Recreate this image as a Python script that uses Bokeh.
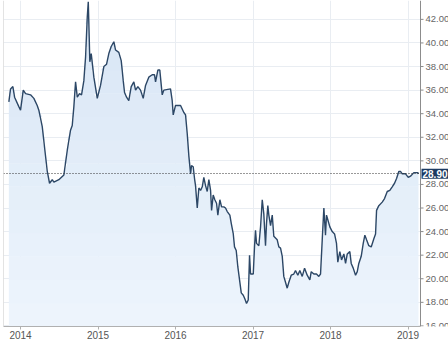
import numpy as np
from bokeh.plotting import figure
from bokeh.models import Span, Label, FixedTicker, Range1d
from bokeh.core.properties import value
from bokeh.embed import file_html
from bokeh.resources import INLINE

# decimal-year dates and closing values
dates = [2013.849, 2013.871, 2013.901, 2013.923, 2013.978, 2014.000, 2014.035, 2014.065, 2014.129, 2014.172,
         2014.215, 2014.236, 2014.280, 2014.314, 2014.345, 2014.374, 2014.409, 2014.430, 2014.494, 2014.559,
         2014.603, 2014.645, 2014.667, 2014.688, 2014.710, 2014.732, 2014.761, 2014.787, 2014.817, 2014.839,
         2014.861, 2014.874, 2014.886, 2014.894, 2014.912, 2014.946, 2014.990, 2015.032, 2015.075, 2015.110,
         2015.139, 2015.170, 2015.204, 2015.226, 2015.268, 2015.299, 2015.325, 2015.342, 2015.368, 2015.397,
         2015.428, 2015.462, 2015.484, 2015.514, 2015.548, 2015.583, 2015.613, 2015.655, 2015.699, 2015.729,
         2015.742, 2015.772, 2015.797, 2015.828, 2015.849, 2015.935, 2015.957, 2015.970, 2016.000, 2016.065,
         2016.107, 2016.129, 2016.151, 2016.172, 2016.194, 2016.206, 2016.228, 2016.245, 2016.258, 2016.280,
         2016.301, 2016.323, 2016.345, 2016.365, 2016.387, 2016.409, 2016.430, 2016.452, 2016.465, 2016.486,
         2016.507, 2016.529, 2016.546, 2016.572, 2016.594, 2016.623, 2016.645, 2016.667, 2016.701, 2016.719,
         2016.745, 2016.761, 2016.783, 2016.804, 2016.826, 2016.848, 2016.874, 2016.894, 2016.916, 2016.938,
         2016.955, 2016.968, 2017.003, 2017.019, 2017.032, 2017.045, 2017.075, 2017.097, 2017.119, 2017.139,
         2017.161, 2017.174, 2017.191, 2017.204, 2017.226, 2017.248, 2017.268, 2017.312, 2017.333, 2017.355,
         2017.377, 2017.397, 2017.419, 2017.441, 2017.462, 2017.493, 2017.526, 2017.548, 2017.578, 2017.604,
         2017.635, 2017.665, 2017.699, 2017.733, 2017.751, 2017.785, 2017.819, 2017.849, 2017.871, 2017.893,
         2017.914, 2017.935, 2017.948, 2017.965, 2017.991, 2018.022, 2018.052, 2018.077, 2018.094, 2018.120,
         2018.142, 2018.172, 2018.194, 2018.216, 2018.249, 2018.267, 2018.293, 2018.323, 2018.345, 2018.365,
         2018.396, 2018.422, 2018.443, 2018.465, 2018.494, 2018.525, 2018.559, 2018.581, 2018.594, 2018.623,
         2018.667, 2018.697, 2018.732, 2018.765, 2018.796, 2018.826, 2018.852, 2018.881, 2018.903, 2018.925,
         2018.968, 2019.003, 2019.032, 2019.075, 2019.126, 2019.135]
values = [35.0, 36.1, 36.3, 35.4, 34.6, 34.3, 36.0, 35.7, 35.6, 35.3,
          34.7, 34.3, 32.9, 30.9, 29.1, 28.1, 28.4, 28.2, 28.4, 28.8,
          30.9, 32.6, 33.0, 34.6, 36.7, 35.4, 35.7, 35.6, 36.8, 38.8,
          42.2, 43.5, 40.5, 38.4, 39.1, 37.1, 35.3, 36.4, 38.0, 38.2,
          39.1, 39.7, 40.1, 39.4, 39.2, 38.5, 36.8, 35.8, 35.4, 35.1,
          36.3, 36.7, 36.0, 36.3, 36.0, 35.3, 36.4, 37.1, 37.3, 37.3,
          36.7, 37.7, 37.7, 35.6, 36.0, 36.1, 35.1, 33.9, 34.7, 34.7,
          34.1, 33.9, 32.3, 30.4, 28.9, 29.6, 29.5, 28.5, 27.9, 26.0,
          27.7, 27.5, 27.8, 28.6, 27.9, 27.4, 28.4, 27.5, 25.8, 27.1,
          26.7, 26.4, 25.4, 26.7, 26.1, 26.1, 26.0, 25.7, 25.4, 24.7,
          23.8, 22.7, 22.4, 21.0, 19.9, 18.8, 18.6, 18.3, 17.9, 18.2,
          22.0, 20.4, 20.4, 22.7, 24.1, 23.0, 22.8, 24.4, 26.7, 25.5,
          22.8, 24.7, 26.2, 25.4, 24.5, 25.4, 23.6, 23.3, 22.7, 22.6,
          21.9, 20.2, 19.7, 19.2, 19.7, 20.3, 20.4, 20.7, 20.3, 20.7,
          20.2, 20.9, 20.3, 19.9, 20.6, 20.4, 20.4, 20.2, 20.4, 23.3,
          26.0, 23.7, 25.4, 25.0, 24.4, 24.0, 23.8, 23.0, 21.4, 22.3,
          21.6, 22.1, 21.3, 22.1, 22.3, 21.3, 20.9, 20.3, 20.6, 21.3,
          21.9, 23.0, 23.7, 23.3, 22.8, 22.7, 23.4, 23.8, 25.8, 26.2,
          26.5, 26.8, 27.4, 27.5, 27.8, 28.1, 28.5, 29.1, 29.1, 28.9,
          28.9, 28.6, 28.7, 29.0, 29.0, 28.9]
last_value = 28.90
year_ticks = [2014, 2015, 2016, 2017, 2018, 2019]
value_ticks = [16, 18, 20, 22, 24, 26, 28, 30, 32, 34, 36, 38, 40, 42]
value_labels = ["%.2f" % v for v in value_ticks]

FONT = "Liberation Sans"
FRAME_W = 445                     # px, frame spans full width right of a 3px margin
x0, x_axis = 2013.78, 2019.161    # left edge and position of the price axis
px = (x_axis - x0) / 417.0        # years per pixel
x_end = x0 + FRAME_W * px
y0, y1 = 15.95, 43.6

p = figure(width=448, height=341, output_backend="svg", toolbar_location=None,
           x_range=Range1d(x0, x_end), y_range=Range1d(y0, y1),
           y_axis_location=None, min_border_left=3, min_border_top=0,
           min_border_right=0, min_border_bottom=0,
           background_fill_color="white", border_fill_color="white")
p.outline_line_color = None

# gradient-like area fill: horizontal bands, lighter at the bottom
vals = np.array(values)
edges = np.linspace(y0, y1, 15)
c_bot = np.array([0xee, 0xf5, 0xfd])
c_top = np.array([0xd8, 0xe6, 0xf5])
for i in range(len(edges) - 1):
    lo, hi = edges[i], edges[i + 1]
    f = (0.5 * (lo + hi) - y0) / (y1 - y0)
    c = (c_bot + (c_top - c_bot) * f).astype(int)
    col = "#%02x%02x%02x" % tuple(c)
    top = np.clip(vals, lo, hi + 0.02)
    p.varea(x=dates, y1=lo, y2=top, fill_color=col, fill_alpha=1.0)

p.line(x=dates, y=values, line_color="#2c4766", line_width=1.4)

# last price dotted line
p.hspan(y=[last_value], line_color="#333333", line_width=1, line_dash="1 2")

# white panel for the price scale (hides grid lines to the right of the axis)
p.quad(left=[x_axis], right=[x_end], bottom=[y0], top=[y1], fill_color="white", line_color=None)

# left border
p.add_layout(Span(location=x0, dimension="height", line_color="#c8c8c8", line_width=1))

# price axis on the right (line, ticks, labels)
p.add_layout(Span(location=x_axis, dimension="height", line_color="#8c8c8c", line_width=1))
p.segment(x0=[x_axis] * len(value_ticks), x1=[x_axis + 3 * px] * len(value_ticks),
          y0=value_ticks, y1=value_ticks, line_color="#8c8c8c", line_width=1)
p.text(x=[x_axis] * len(value_ticks), y=value_ticks, text=value_labels, x_offset=5,
       text_align="left", text_baseline="middle", text_color="#666666",
       text_font=value(FONT), text_font_size="9.5px")

lab = Label(x=x_axis, y=last_value, text="%.2f" % last_value, x_offset=1,
            text_align="left", text_baseline="middle", text_color="white",
            text_font=FONT, text_font_size="10px", text_font_style="bold",
            background_fill_color="#1d3b62", padding=1, level="overlay")
p.add_layout(lab)

p.xgrid.ticker = FixedTicker(ticks=year_ticks)
p.ygrid.ticker = FixedTicker(ticks=value_ticks)
p.xgrid.grid_line_color = "#e9edf2"
p.ygrid.grid_line_color = "#e9edf2"
p.xgrid.level = "image"
p.ygrid.level = "image"

xa = p.xaxis[0]
xa.ticker = FixedTicker(ticks=year_ticks)
xa.major_label_overrides = {t: str(t) for t in year_ticks}
xa.bounds = (x0, x_axis)
xa.axis_line_color = "#b0b0b0"
xa.major_tick_line_color = "#b0b0b0"
xa.major_tick_in = 0
xa.major_tick_out = 3
xa.minor_tick_line_color = None
xa.major_label_text_font = FONT
xa.major_label_text_font_size = "10px"
xa.major_label_text_color = "#555555"
xa.major_label_standoff = 1

open("out.html", "w").write(file_html(p, INLINE))
